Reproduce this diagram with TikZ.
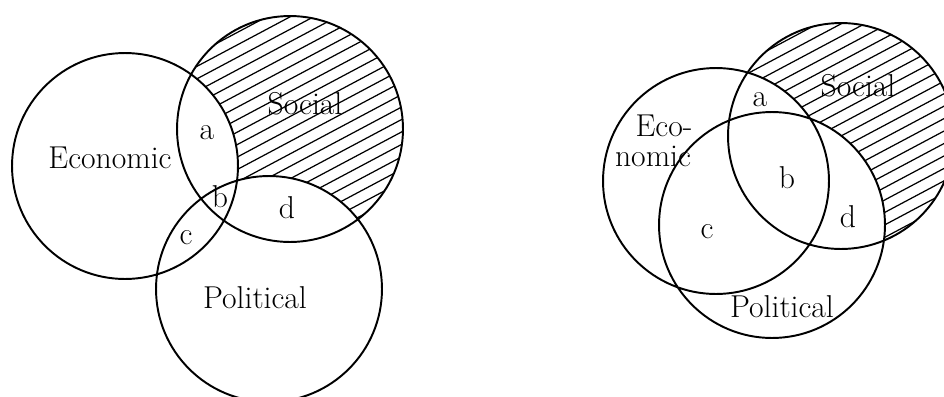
\documentclass[tikz,border=0pt]{standalone}
\usetikzlibrary{positioning}

\begin{document}
\begin{tikzpicture}[
    x=0.02cm, y=0.02cm,
    ring/.style={draw, line width=1.1pt},
    hatch/.style={line width=0.7pt},
    lbl/.style={font=\fontsize{18}{16}\selectfont, inner sep=0pt},
]
\def\rad{2.26cm}
\useasboundingbox (0,0) rectangle (944,-396);
\clip (0,0) rectangle (944,-396);

% Left: the three spheres only touch at the edges
\coordinate (ecoL) at (125,-166);
\coordinate (socL) at (290,-129);
\coordinate (polL) at (269,-289);

\begin{scope}
  \clip (socL) circle[radius=\rad];
  \begin{scope}[shift={(socL)}, rotate=28]
    \foreach \k in {-11,...,11}
      \draw[hatch] (-130,\k*11) -- (130,\k*11);
  \end{scope}
  \fill[white] (ecoL) circle[radius=\rad] (polL) circle[radius=\rad];
\end{scope}
\draw[ring] (ecoL) circle[radius=\rad] (socL) circle[radius=\rad] (polL) circle[radius=\rad];

\node[lbl] (econ1) at (110,-158) {Economic};
\node[lbl] (soc1) at (305,-104) {Social};
\node[lbl] (pol1) at (255,-298) {Political};
\node[lbl] (a1) at (207,-133) {a};
\node[lbl] (b1) at (220,-197) {b};
\node[lbl] (c1) at (186,-238) {c};
\node[lbl] (d1) at (287,-208) {d};

% Right: the spheres overlap a lot
\coordinate (ecoR) at (716,-181);
\coordinate (socR) at (841,-136);
\coordinate (polR) at (772,-225);

\begin{scope}
  \clip (socR) circle[radius=\rad];
  \begin{scope}[shift={(socR)}, rotate=28]
    \foreach \k in {-11,...,11}
      \draw[hatch] (-130,\k*11) -- (130,\k*11);
  \end{scope}
  \fill[white] (ecoR) circle[radius=\rad] (polR) circle[radius=\rad];
\end{scope}
\draw[ring] (ecoR) circle[radius=\rad] (socR) circle[radius=\rad] (polR) circle[radius=\rad];

\node[lbl] (econ2) at (664,-126) {Eco-};
\node[lbl] (nomic2) at (653,-156) {nomic};
\node[lbl] (soc2) at (858,-86) {Social};
\node[lbl] (pol2) at (782,-307) {Political};
\node[lbl] (a2) at (760,-100) {a};
\node[lbl] (b2) at (787,-178) {b};
\node[lbl] (c2) at (707,-232) {c};
\node[lbl] (d2) at (848,-217) {d};

\end{tikzpicture}
\end{document}
